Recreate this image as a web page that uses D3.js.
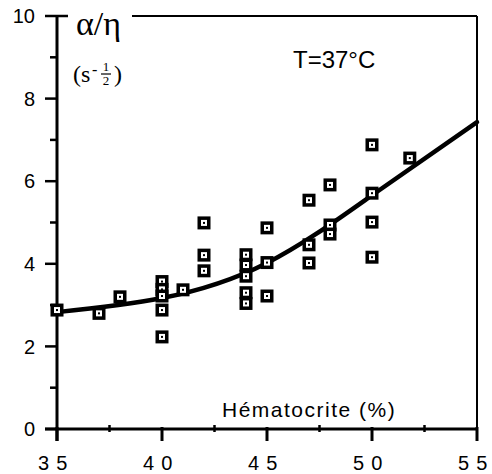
<!DOCTYPE html>
<html><head><meta charset="utf-8">
<script src="https://cdn.jsdelivr.net/npm/d3@7"></script>
<style>body{margin:0;background:#fff}svg{display:block}</style>
</head><body>
<svg id="c" width="492" height="474"></svg>
<script>
const hematocrit = [35,37,38,40,40,40,40,40,41,42,42,42,44,44,44,44,44,45,45,45,47,47,47,48,48,48,50,50,50,50,51.8];
const ratio = [2.88,2.8,3.2,3.57,3.38,3.22,2.88,2.23,3.37,4.99,4.21,3.83,4.22,3.97,3.7,3.3,3.04,4.87,4.03,3.22,5.54,4.46,4.02,5.91,4.94,4.72,6.88,5.71,5.01,4.16,6.56];
const fitX = [35,40,45,50,55];
const fitY = [2.83,3.17,4.02,5.66,7.43];
const xTicks = [35,40,45,50,55];
const xMinor = [37.5,42.5,47.5,52.5];
const yTicks = [0,2,4,6,8,10];
const yMinor = [1,3,5,7,9];

const svg = d3.select('#c');
const x = d3.scaleLinear().domain([35,55]).range([57,477]);
const y = d3.scaleLinear().domain([0,10]).range([429,16]);
const font = 'Liberation Sans, Arial, sans-serif';
const serif = 'Liberation Serif, Times New Roman, serif';

// frame
svg.append('line').attr('x1',132).attr('x2',x(55)).attr('y1',y(10)).attr('y2',y(10)).attr('stroke','#000').attr('stroke-width',2);
svg.append('line').attr('x1',x(55)).attr('x2',x(55)).attr('y1',y(10)).attr('y2',y(0)).attr('stroke','#000').attr('stroke-width',2);

// y axis
const yAxis = svg.append('g');
yAxis.append('line').attr('x1',x(35)).attr('x2',x(35)).attr('y1',y(10)).attr('y2',y(0)+12).attr('stroke','#000').attr('stroke-width',3);
yAxis.selectAll('.ymaj').data(yTicks).join('line')
  .attr('x1',x(35)-12).attr('x2',d=>d===10?x(35)+11:x(35)).attr('y1',d=>y(d)).attr('y2',d=>y(d))
  .attr('stroke','#000').attr('stroke-width',2.5);
yAxis.selectAll('.ymin').data(yMinor).join('line')
  .attr('x1',x(35)-7).attr('x2',x(35)).attr('y1',d=>y(d)).attr('y2',d=>y(d))
  .attr('stroke','#000').attr('stroke-width',2.5);
yAxis.selectAll('.ylab').data(yTicks).join('text')
  .attr('x',35).attr('y',d=>y(d)).attr('dy','0.36em').attr('text-anchor','end')
  .attr('font-family',font).attr('font-size',20).text(d=>d);

// x axis
const xAxis = svg.append('g');
xAxis.append('line').attr('x1',x(35)-12).attr('x2',x(55)).attr('y1',y(0)).attr('y2',y(0)).attr('stroke','#000').attr('stroke-width',3);
xAxis.selectAll('.xmaj').data(xTicks).join('line')
  .attr('x1',d=>x(d)).attr('x2',d=>x(d)).attr('y1',y(0)-2).attr('y2',y(0)+12)
  .attr('stroke','#000').attr('stroke-width',3);
xAxis.selectAll('.xmin').data(xMinor).join('line')
  .attr('x1',d=>x(d)).attr('x2',d=>x(d)).attr('y1',y(0)-4).attr('y2',y(0)+3)
  .attr('stroke','#000').attr('stroke-width',2.5);
const xl = xAxis.selectAll('.xlab').data(xTicks).join('text')
  .attr('x',d=>x(d)-19).attr('y',470).attr('text-anchor','start')
  .attr('font-family',font).attr('font-size',20);
xl.append('tspan').text(d=>String(d)[0]);
xl.append('tspan').attr('dx',7).text(d=>String(d)[1]);

// fitted curve
const line = d3.line().x((d,i)=>x(fitX[i])).y(d=>y(d)).curve(d3.curveNatural);
svg.append('path').attr('d',line(fitY)).attr('fill','none').attr('stroke','#000').attr('stroke-width',4.5).attr('stroke-linecap','round');

// points
const pts = svg.selectAll('.pt').data(hematocrit.map((h,i)=>[h,ratio[i]])).join('g')
  .attr('transform',d=>`translate(${x(d[0])},${y(d[1])})`);
pts.append('rect').attr('x',-6.5).attr('y',-6.5).attr('width',13).attr('height',13).attr('fill','#000');
pts.append('rect').attr('x',-3).attr('y',-3).attr('width',6).attr('height',6).attr('fill','#fff');
pts.append('rect').attr('x',-1).attr('y',-1).attr('width',2).attr('height',2).attr('fill','#000');

// labels
svg.append('text').attr('x',76).attr('y',35).attr('font-family',serif)
  .attr('font-size',34).text('α/η');
const u = svg.append('g').attr('font-family',serif);
u.append('text').attr('x',73).attr('y',82).attr('font-size',24).text('(s');
u.append('text').attr('x',92).attr('y',75).attr('font-size',16).text('-');
u.append('text').attr('x',106).attr('y',71).attr('font-size',13).attr('text-anchor','middle').text('1');
u.append('line').attr('x1',101).attr('x2',111).attr('y1',74).attr('y2',74).attr('stroke','#000').attr('stroke-width',1.2);
u.append('text').attr('x',106).attr('y',85).attr('font-size',13).attr('text-anchor','middle').text('2');
u.append('text').attr('x',114).attr('y',82).attr('font-size',24).text(')');

svg.append('text').attr('x',293).attr('y',68).attr('font-family',font).attr('font-size',24).text('T=37°C');
svg.append('text').attr('x',222).attr('y',417).attr('font-family',font).attr('font-size',21).attr('letter-spacing','1.5px').text('Hématocrite (%)');
</script>
</body></html>
